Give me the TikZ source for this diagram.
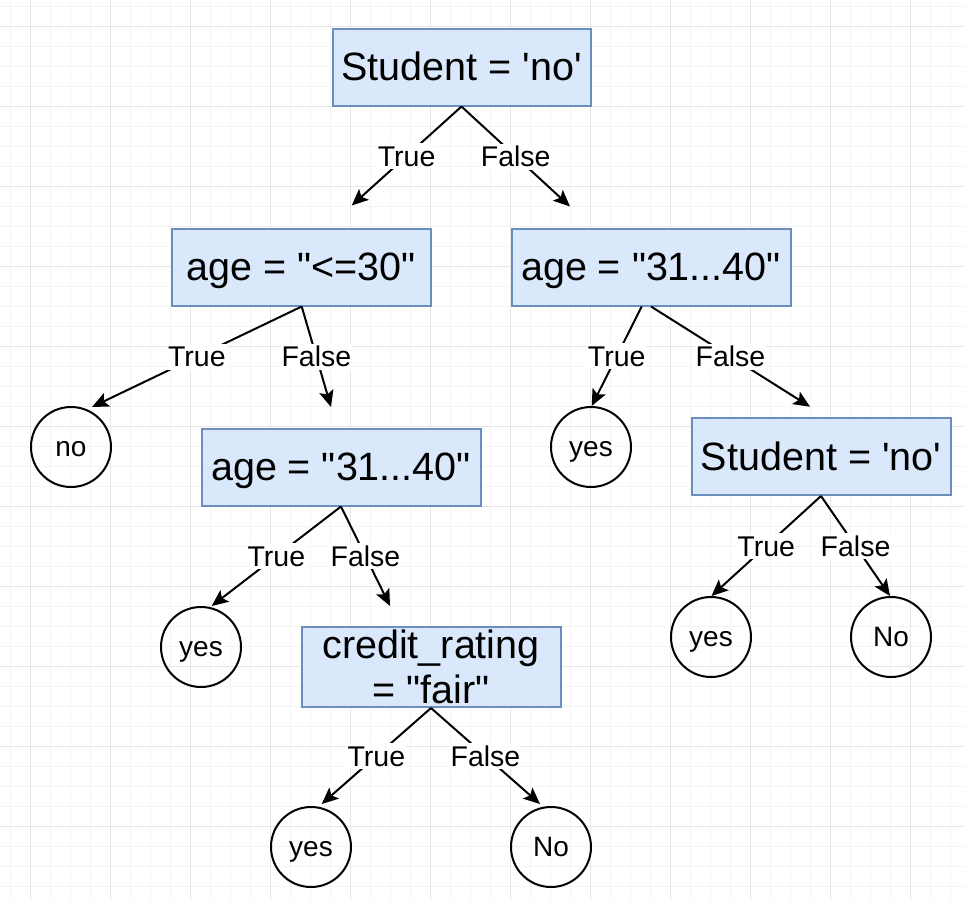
\documentclass[tikz,border=0pt]{standalone}
\usepackage{fontspec}
\newfontfamily\lib{Liberation Sans}
\usetikzlibrary{arrows.meta}
\definecolor{boxfill}{HTML}{DAE8FC}
\definecolor{boxline}{HTML}{6C8EBF}
\definecolor{gridminor}{HTML}{F4F4F4}
\definecolor{gridmajor}{HTML}{E6E6E6}
\begin{document}
\begin{tikzpicture}[x=1pt,y=-1pt,
  condbase/.style={draw=boxline, fill=boxfill, line width=2pt, inner sep=0pt,
    minimum height=77pt, font=\lib\fontsize{39.5}{45.5}\selectfont},
  cond/.style={condbase, text height=27.6pt, text depth=0pt},
  leaf/.style={circle, draw=black, line width=2pt, minimum size=80pt, inner sep=0pt,
    font=\lib\fontsize{28}{32}\selectfont, text height=19.6pt, text depth=0pt},
  edge/.style={line width=2pt, -{Stealth[length=16.5pt,width=14.5pt,inset=3.5pt]}},
  lbl/.style={fill=white, inner xsep=1pt, inner ysep=3pt,
    font=\lib\fontsize{28.5}{32}\selectfont, text height=20pt, text depth=0pt},
  gmin/.style={draw=gridminor, line width=1pt},
  gmaj/.style={draw=gridmajor, line width=1pt}
]
\useasboundingbox (0,0) rectangle (964,900);
\fill[white] (0,0) rectangle (964,900);
% grid
\foreach \i in {0,...,47} \draw[gmin] (10.7+20*\i,0) -- (10.7+20*\i,900);
\foreach \j in {0,...,44} \draw[gmin] (0,6.7+20*\j) -- (964,6.7+20*\j);
\foreach \i in {0,...,11} \draw[gmaj] (30.7+80*\i,0) -- (30.7+80*\i,900);
\foreach \j in {0,...,10} \draw[gmaj] (0,26.7+80*\j) -- (964,26.7+80*\j);

% condition boxes
\node[cond, minimum width=258pt] (root) at (461.5,67) {Student = 'no'};
\node[cond, minimum width=259pt] (ageL) at (301,267) {age = "<=30"};
\node[cond, minimum width=279pt] (ageR) at (651,267) {age = "31...40"};
\node[cond, minimum width=279pt] (ageM) at (341,467) {age = "31...40"};
\node[cond, minimum width=259pt] (studR) at (821,456.5) {Student = 'no'};
\node[condbase, minimum width=259pt, minimum height=80pt, align=center] (cred) at (431,667) {credit\_rating\\= "fair"};

% leaves
\node[leaf] (no1) at (71,447) {no};
\node[leaf] (yes1) at (201,647) {yes};
\node[leaf] (yes2) at (591,447) {yes};
\node[leaf] (yes3) at (311,847) {yes};
\node[leaf] (No3) at (551,847) {No};
\node[leaf] (yes4) at (711,637) {yes};
\node[leaf] (No4) at (891,637) {No};

% free arrow ends
\coordinate (rT) at (351.7,205.5);
\coordinate (rF) at (570,206.5);
\coordinate (aLT) at (92,407);
\coordinate (aLF) at (331,407);
\coordinate (aRT) at (591.7,406);
\coordinate (aRF) at (810,406.7);
\coordinate (aMT) at (211.7,606);
\coordinate (aMF) at (390,606);
\coordinate (sRT) at (711.5,596);
\coordinate (sRF) at (890,596);
\coordinate (cT) at (321.7,804);
\coordinate (cF) at (540,804);

% edges
\draw[edge] (root.south) -- node[lbl]{True} (rT);
\draw[edge] (root.south) -- node[lbl]{False} (rF);
\draw[edge] ([xshift=0.7pt]ageL.south) -- node[lbl]{True} (aLT);
\draw[edge] ([xshift=0.7pt]ageL.south) -- node[lbl]{False} (aLF);
\draw[edge] ([xshift=-9.3pt]ageR.south) -- node[lbl]{True} (aRT);
\draw[edge] (ageR.south) -- node[lbl]{False} (aRF);
\draw[edge] (ageM.south) -- node[lbl]{True} (aMT);
\draw[edge] (ageM.south) -- node[lbl]{False} (aMF);
\draw[edge] (studR.south) -- node[lbl]{True} (sRT);
\draw[edge] (studR.south) -- node[lbl]{False} (sRF);
\draw[edge] (cred.south) -- node[lbl]{True} (cT);
\draw[edge] (cred.south) -- node[lbl]{False} (cF);
\end{tikzpicture}
\end{document}
